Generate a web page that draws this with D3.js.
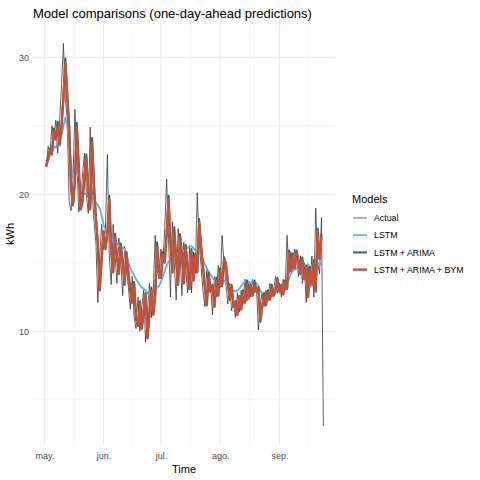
<!DOCTYPE html>
<html>
<head>
<meta charset="utf-8">
<script src="https://cdn.jsdelivr.net/npm/d3@7"></script>
<style>
  body { margin: 0; background: #fff; }
  text { font-family: "Liberation Sans", Arial, sans-serif; }
</style>
</head>
<body>
<div id="chart"></div>
<script>
// daily series, first value is 2 May
var startDay = "2023-05-02"

var actual = [
  22.0, 23.5, 23.0, 25.0, 24.2, 25.4, 23.0, 25.3, 28.0, 31.0,
  27.0, 25.5, 19.5, 18.8, 21.0, 26.2, 22.5, 18.7, 19.2, 21.5,
  23.0, 20.0, 18.6, 24.9, 20.5, 18.0, 16.5, 12.1, 15.5, 17.8,
  16.0, 17.5, 22.9, 15.5, 13.4, 17.8, 15.6, 13.5, 16.8, 15.2,
  12.6, 16.2, 14.5, 13.2, 11.6, 14.0, 11.0, 10.2, 12.5, 10.0,
  11.8, 13.0, 9.2, 11.5, 13.5, 11.0, 12.8, 17.0, 14.5, 13.8,
  16.0, 15.0, 17.5, 21.1, 16.8, 12.5, 18.0, 15.0, 12.3, 17.5,
  15.8, 12.6, 16.5, 14.5, 12.8, 16.2, 12.8, 15.8, 14.2, 20.1,
  16.5, 14.8, 13.0, 11.8, 14.5, 12.8, 13.5, 11.2, 14.0, 12.5,
  14.8, 13.2, 17.0, 15.0, 13.5, 12.0, 13.5, 11.5, 12.2, 11.0,
  12.8, 11.4, 13.0, 12.0, 13.8, 12.2, 13.5, 12.5, 13.8, 12.8,
  13.2, 10.1, 12.0, 12.8, 11.8, 13.0, 12.2, 13.5, 12.5, 13.0,
  14.0, 12.8, 13.5, 12.5, 13.8, 13.0, 17.0, 14.2, 15.8, 14.5,
  16.0, 15.2, 14.0, 15.5, 13.5, 15.0, 12.1, 14.8, 13.2, 15.5,
  12.5, 19.0, 15.0, 14.2, 18.3, 3.1
]

var lstm = [
  22.3, 22.5, 22.8, 23.2, 23.5, 23.4, 23.9, 24.0, 24.3, 25.0,
  25.6, 25.0, 23.8, 22.3, 21.2, 21.3, 21.6, 21.2, 20.6, 20.2,
  20.0, 20.1, 19.8, 19.6, 19.9, 19.7, 19.4, 19.2, 19.0, 18.4,
  17.8, 17.4, 17.3, 17.5, 16.9, 16.5, 16.6, 16.4, 16.2, 16.3,
  16.1, 16.0, 15.6, 15.0, 14.6, 14.3, 14.1, 13.8, 13.6, 13.4,
  13.2, 13.1, 13.0, 12.8, 12.6, 12.5, 12.6, 12.9, 13.2, 13.3,
  13.6, 14.0, 14.4, 14.8, 15.1, 15.2, 15.3, 15.5, 15.6, 15.7,
  15.6, 15.7, 15.9, 16.0, 16.1, 16.2, 16.2, 16.1, 15.9, 15.8,
  16.0, 15.6, 15.2, 14.9, 14.6, 14.3, 14.1, 13.9, 13.7, 13.5,
  13.4, 13.4, 13.6, 13.7, 13.5, 13.3, 13.1, 13.0, 13.0, 12.9,
  13.0, 13.1, 13.3, 13.5, 13.6, 13.7, 13.6, 13.5, 13.7, 13.6,
  13.5, 13.3, 13.0, 12.8, 12.7, 12.6, 12.7, 12.6, 12.8, 13.0,
  13.1, 13.2, 13.3, 13.2, 13.3, 13.5, 13.5, 13.8, 14.2, 14.4,
  14.5, 14.6, 14.5, 14.7, 14.6, 14.8, 14.7, 14.9, 14.6, 14.8,
  15.0, 14.6, 14.9, 15.0, 14.8
]

var lstmArima = [
  22.1, 22.7, 23.3, 23.0, 24.8, 24.1, 25.3, 23.7, 25.0, 27.2,
  29.9, 27.3, 24.9, 20.6, 19.2, 20.9, 25.2, 22.1, 18.9, 19.5,
  21.4, 22.9, 20.2, 18.9, 24.1, 20.7, 18.3, 16.4, 13.0, 15.4,
  17.3, 16.1, 17.2, 19.9, 15.9, 14.3, 17.1, 15.5, 14.2, 16.4,
  15.1, 13.4, 15.8, 14.3, 13.0, 12.1, 13.6, 10.9, 10.4, 12.2,
  10.2, 11.6, 12.8, 9.5, 11.3, 13.2, 11.2, 12.7, 16.5, 14.5,
  13.9, 15.8, 15.1, 17.2, 19.9, 16.6, 14.3, 17.6, 15.2, 13.4,
  17.1, 15.7, 13.5, 16.3, 14.5, 13.1, 16.0, 13.7, 15.7, 14.3,
  18.2, 16.3, 14.8, 13.2, 11.9, 14.3, 12.9, 13.4, 11.8, 13.9,
  12.6, 14.6, 13.3, 15.4, 15.0, 13.6, 12.3, 13.4, 11.8, 12.2,
  11.2, 12.6, 11.6, 13.0, 12.1, 13.7, 12.4, 13.4, 12.6, 13.7,
  12.9, 13.2, 10.7, 11.8, 12.8, 11.9, 13.0, 12.3, 13.4, 12.6,
  13.0, 13.9, 12.9, 13.4, 12.7, 13.7, 13.1, 15.9, 14.4, 15.7,
  14.6, 15.9, 15.1, 14.2, 15.4, 13.8, 14.8, 12.5, 14.7, 13.4,
  15.2, 12.9, 17.5, 15.3, 17.1
]

var lstmArimaBym = [
  22.0, 22.6, 23.2, 22.9, 24.6, 24.0, 25.0, 23.6, 24.8, 27.0,
  29.6, 27.2, 24.8, 20.5, 19.2, 20.8, 24.9, 22.0, 18.9, 19.4,
  21.3, 22.6, 20.1, 18.9, 23.8, 20.6, 18.2, 16.4, 13.0, 15.3,
  17.2, 16.0, 17.1, 19.6, 15.8, 14.3, 16.9, 15.4, 14.2, 16.2,
  15.0, 13.4, 15.6, 14.2, 13.0, 12.1, 13.4, 10.9, 10.4, 12.0,
  10.2, 11.5, 12.6, 9.5, 11.3, 13.0, 11.2, 12.6, 16.2, 14.4,
  13.9, 15.6, 15.0, 17.0, 19.6, 16.5, 14.3, 17.4, 15.1, 13.4,
  16.9, 15.6, 13.5, 16.1, 14.5, 13.1, 15.8, 13.7, 15.5, 14.3,
  17.9, 16.2, 14.7, 13.2, 11.9, 14.1, 12.9, 13.3, 11.8, 13.7,
  12.6, 14.4, 13.3, 15.2, 14.9, 13.6, 12.3, 13.3, 11.8, 12.1,
  11.2, 12.5, 11.6, 12.8, 12.1, 13.5, 12.4, 13.3, 12.6, 13.5,
  12.9, 13.1, 10.7, 11.8, 12.6, 11.9, 12.8, 12.3, 13.2, 12.6,
  12.9, 13.7, 12.9, 13.3, 12.7, 13.5, 13.1, 15.7, 14.4, 15.5,
  14.6, 15.7, 15.1, 14.2, 15.2, 13.8, 14.7, 12.5, 14.5, 13.4,
  15.0, 12.9, 17.3, 15.3, 16.9
]

var models = ["Actual", "LSTM", "LSTM + ARIMA", "LSTM + ARIMA + BYM"]
var modelColors = ["#3a3a3a", "#5db1e6", "#1f6f68", "#c4513a"]
var modelWidths = [0.8, 1.8, 2.0, 2.4]

var monthTicks = ["2023-05-01", "2023-06-01", "2023-07-01", "2023-08-01", "2023-09-01"]
var monthLabels = ["may.", "jun.", "jul.", "ago.", "sep."]
var yTicks = [10, 20, 30]

// panel box
var W = 480, H = 480
var panel = {left: 33, right: 335, top: 23, bottom: 445}

var svg = d3.select("#chart")
  .append("svg")
    .attr("width", W)
    .attr("height", H)

var x = d3.scaleUtc()
  .domain([new Date("2023-04-25T02:00:00Z"), new Date("2023-09-30T02:00:00Z")])
  .range([panel.left, panel.right])

var y = d3.scaleLinear()
  .domain([1.7, 32.5])
  .range([panel.bottom, panel.top])

var t0 = new Date(startDay + "T00:00:00Z")
function toPoints(arr) {
  return arr.map(function(v, i) { return {date: d3.utcDay.offset(t0, i), value: v} })
}
var series = [actual, lstm, lstmArima, lstmArimaBym].map(toPoints)

// grid: minor lines sit half way between the major ones
var majorDates = monthTicks.map(function(s) { return new Date(s + "T00:00:00Z") })
var minorDates = []
var allMonths = [new Date("2023-04-01T00:00:00Z")].concat(majorDates, [new Date("2023-10-01T00:00:00Z")])
for (var i = 0; i < allMonths.length - 1; ++i) {
  minorDates.push(new Date((+allMonths[i] + +allMonths[i + 1]) / 2))
}
var minorY = [5, 15, 25]

var grid = svg.append("g")
grid.selectAll(".vminor")
  .data(minorDates.filter(function(d) { return x(d) > panel.left && x(d) < panel.right }))
  .enter().append("line")
    .attr("x1", function(d) { return x(d) }).attr("x2", function(d) { return x(d) })
    .attr("y1", panel.top).attr("y2", panel.bottom)
    .attr("stroke", "#f0f0f0").attr("stroke-width", 0.6)
grid.selectAll(".hminor")
  .data(minorY)
  .enter().append("line")
    .attr("x1", panel.left).attr("x2", panel.right)
    .attr("y1", function(d) { return y(d) }).attr("y2", function(d) { return y(d) })
    .attr("stroke", "#f0f0f0").attr("stroke-width", 0.6)
grid.selectAll(".vmajor")
  .data(majorDates)
  .enter().append("line")
    .attr("x1", function(d) { return x(d) }).attr("x2", function(d) { return x(d) })
    .attr("y1", panel.top).attr("y2", panel.bottom)
    .attr("stroke", "#e8e8e8").attr("stroke-width", 1)
grid.selectAll(".hmajor")
  .data(yTicks)
  .enter().append("line")
    .attr("x1", panel.left).attr("x2", panel.right)
    .attr("y1", function(d) { return y(d) }).attr("y2", function(d) { return y(d) })
    .attr("stroke", "#e8e8e8").attr("stroke-width", 1)

// axes (labels only, like theme_minimal)
var xAxis = svg.append("g")
  .attr("transform", "translate(0," + panel.bottom + ")")
  .call(d3.axisBottom(x).tickValues(majorDates).tickSize(0).tickPadding(8)
    .tickFormat(function(d, i) { return monthLabels[i] }))
xAxis.select(".domain").remove()
xAxis.selectAll("text").attr("fill", "#4d4d4d").style("font-size", "9px")
  .style("font-family", "Liberation Sans, Arial, sans-serif")

var yAxis = svg.append("g")
  .attr("transform", "translate(" + panel.left + ",0)")
  .call(d3.axisLeft(y).tickValues(yTicks).tickSize(0).tickPadding(4))
yAxis.select(".domain").remove()
yAxis.selectAll("text").attr("fill", "#4d4d4d").style("font-size", "9px")
  .style("font-family", "Liberation Sans, Arial, sans-serif")

// lines
var line = d3.line()
  .x(function(d) { return x(d.date) })
  .y(function(d) { return y(d.value) })

svg.append("g").selectAll("path")
  .data(series)
  .enter().append("path")
    .attr("d", line)
    .attr("fill", "none")
    .attr("stroke", function(d, i) { return modelColors[i] })
    .attr("stroke-width", function(d, i) { return modelWidths[i] })
    .attr("stroke-linejoin", "round")

// titles
svg.append("text")
  .attr("x", 33).attr("y", 18)
  .style("font-size", "13px")
  .text("Model comparisons (one-day-ahead predictions)")

svg.append("text")
  .attr("x", (panel.left + panel.right) / 2).attr("y", 473)
  .attr("text-anchor", "middle")
  .style("font-size", "11px")
  .text("Time")

svg.append("text")
  .attr("transform", "translate(14," + ((panel.top + panel.bottom) / 2) + ") rotate(-90)")
  .attr("text-anchor", "middle")
  .style("font-size", "11px")
  .text("kWh")

// legend
var legend = svg.append("g").attr("transform", "translate(352,0)")
legend.append("text")
  .attr("x", 0).attr("y", 203)
  .style("font-size", "11px")
  .text("Models")
var rows = legend.selectAll(".row")
  .data(models)
  .enter().append("g")
    .attr("transform", function(d, i) { return "translate(0," + (218 + i * 17.2) + ")" })
rows.append("line")
  .attr("x1", 1).attr("x2", 15)
  .attr("stroke", function(d, i) { return modelColors[i] })
  .attr("stroke-width", function(d, i) { return modelWidths[i] })
rows.append("text")
  .attr("x", 22).attr("y", 3.2)
  .style("font-size", "8.8px")
  .text(function(d) { return d })
</script>
</body>
</html>
